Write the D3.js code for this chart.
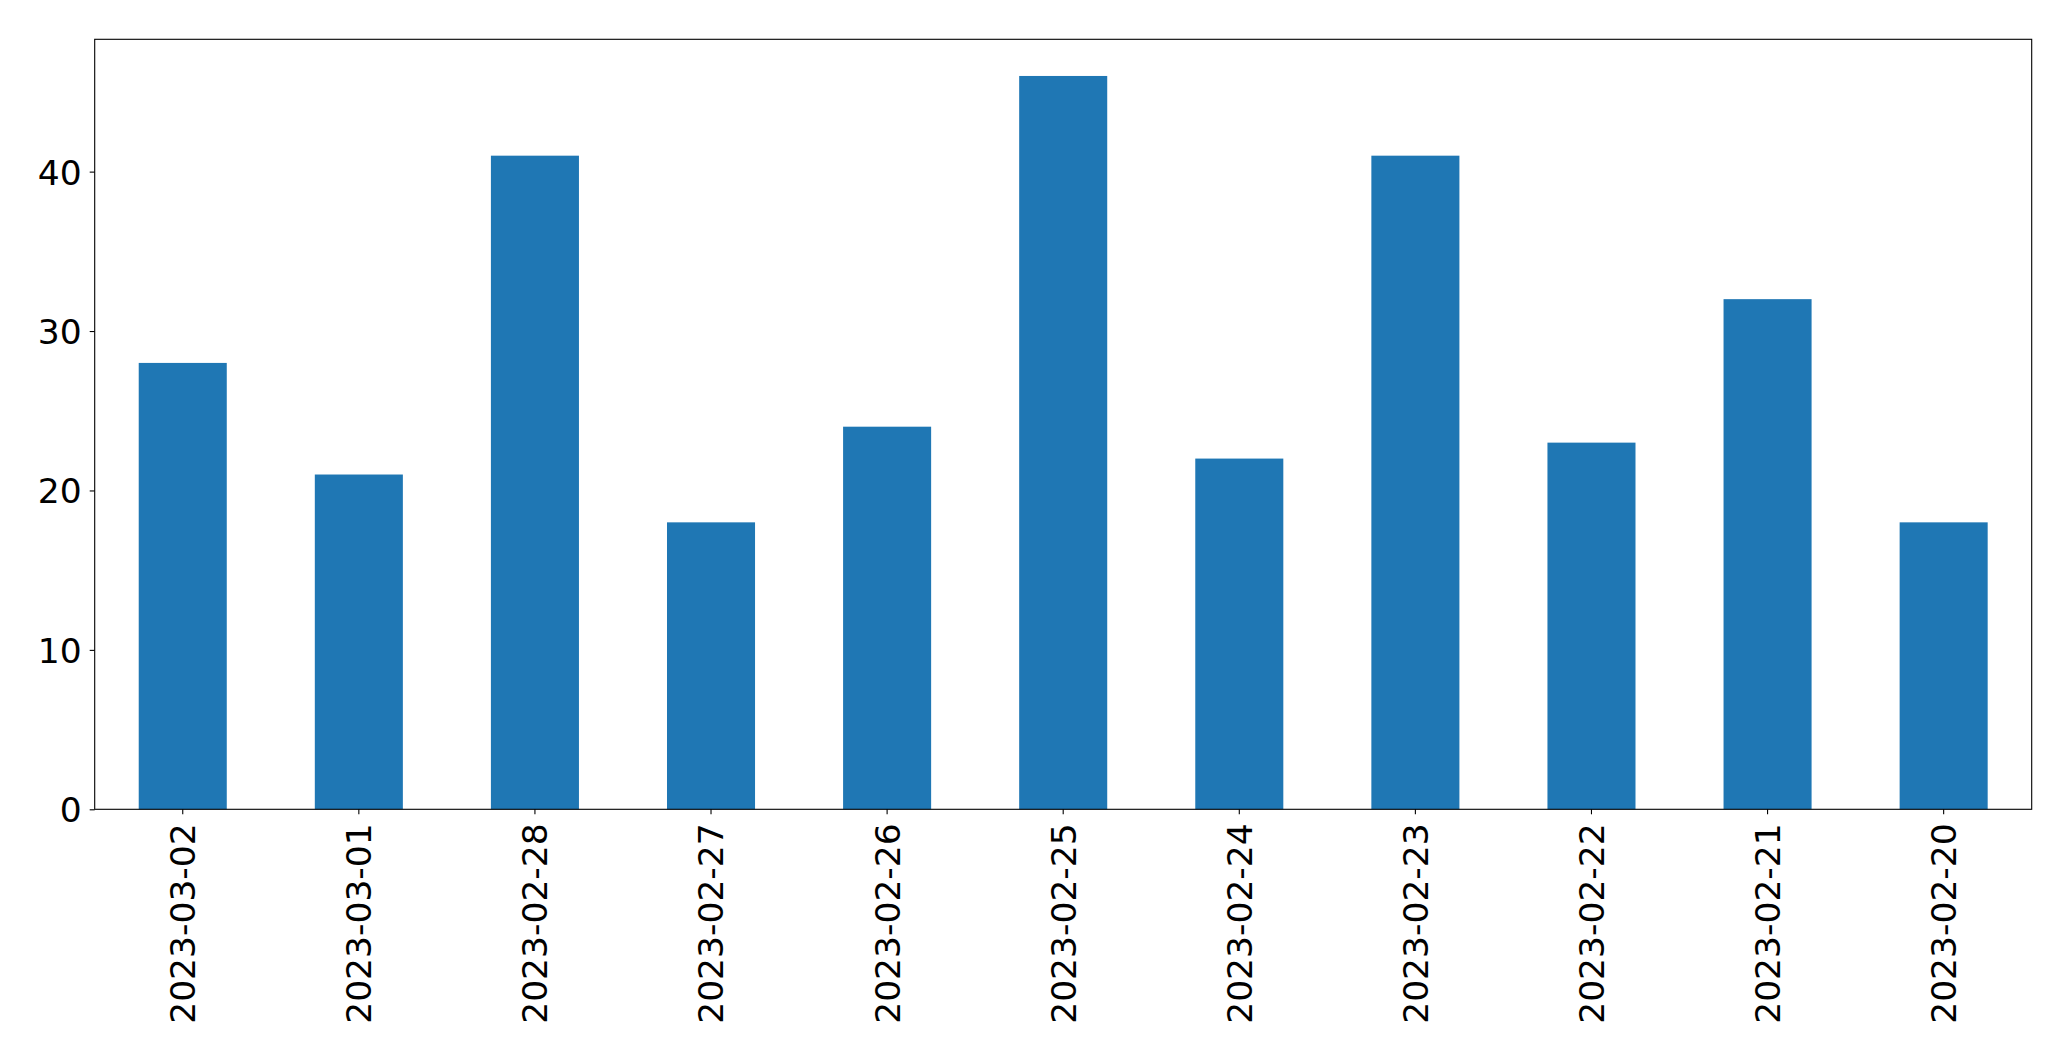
<!DOCTYPE html>
<html>
<head>
<meta charset="utf-8">
<script src="https://cdn.jsdelivr.net/npm/d3@7"></script>
<style>
  html, body { margin: 0; padding: 0; background: #fff; }
  svg { display: block; }
  text { font-family: "DejaVu Sans", sans-serif; fill: #000; }
</style>
</head>
<body>
<svg id="chart" width="2071" height="1061"></svg>
<script>
const categories = ["2023-03-02","2023-03-01","2023-02-28","2023-02-27","2023-02-26","2023-02-25","2023-02-24","2023-02-23","2023-02-22","2023-02-21","2023-02-20"];
const values = [28, 21, 41, 18, 24, 46, 22, 41, 23, 32, 18];
const yTicks = [0, 10, 20, 30, 40];

const W = 2071, H = 1061;
const m = { left: 94.7, top: 39.3, right: W - 2031.7, bottom: H - 809.3 };
const iw = W - m.left - m.right, ih = H - m.top - m.bottom;

const svg = d3.select("#chart");
const g = svg.append("g").attr("transform", `translate(${m.left},${m.top})`);

const x = d3.scaleBand().domain(categories).range([0, iw]).paddingInner(0.5).paddingOuter(0.25);
const y = d3.scaleLinear().domain([0, d3.max(values) * 1.05]).range([ih, 0]);

g.selectAll("rect.bar").data(values).enter().append("rect")
  .attr("class", "bar")
  .attr("x", (d, i) => x(categories[i]))
  .attr("width", x.bandwidth())
  .attr("y", d => y(d))
  .attr("height", d => ih - y(d))
  .attr("fill", "#1f77b4");

const fs = 34.5;
const yAxis = g.append("g")
  .call(d3.axisLeft(y).tickValues(yTicks).tickSize(5).tickPadding(8).tickSizeOuter(0).tickFormat(d3.format("d")));
yAxis.select(".domain").remove();
yAxis.selectAll("text").style("font-size", fs + "px").attr("dy", "0.36em");
yAxis.selectAll("line").attr("stroke", "#000").attr("stroke-width", 1.1);

const xAxis = g.append("g").attr("transform", `translate(0,${ih})`)
  .call(d3.axisBottom(x).tickSize(5).tickPadding(0).tickSizeOuter(0));
xAxis.select(".domain").remove();
xAxis.selectAll("line").attr("stroke", "#000").attr("stroke-width", 1.1);
xAxis.selectAll("text")
  .style("font-size", fs + "px")
  .attr("text-anchor", "end")
  .attr("y", 0).attr("dy", "0.36em").attr("x", 0)
  .attr("transform", "translate(0,14) rotate(-90)");

g.append("rect").attr("x", 0).attr("y", 0).attr("width", iw).attr("height", ih)
  .attr("fill", "none").attr("stroke", "#000").attr("stroke-width", 1.1);
</script>
</body>
</html>
